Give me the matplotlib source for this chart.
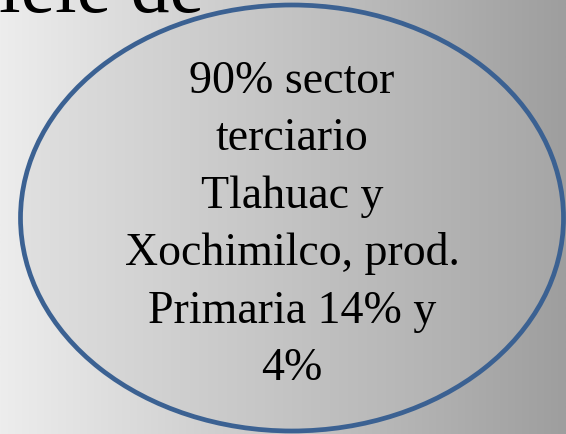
import numpy as np
import matplotlib
matplotlib.use('Agg')
import matplotlib.pyplot as plt
from matplotlib.patches import Ellipse

# texto del recuadro
titulo = 'iele de'
lineas = ['90% sector', 'terciario', 'Tlahuac y',
          'Xochimilco, prod.', 'Primaria 14% y', '4%']

W, H = 566, 435
fig = plt.figure(figsize=(W / 100, H / 100), dpi=100)
ax = fig.add_axes([0, 0, 1, 1])
ax.set_xlim(0, W); ax.set_ylim(H, 0); ax.axis('off')

# fondo degradado horizontal
g = np.linspace(0, 1, 256)[None, :]
ax.imshow(g, cmap=matplotlib.colors.LinearSegmentedColormap.from_list('bg', ['#ededed', '#9e9e9e']),
          extent=[0, W, H, 0], aspect='auto', zorder=0)

# elipse con degradado propio
cx, cy, ew, eh = 292, 219, 543, 426
el = Ellipse((cx, cy), ew, eh, facecolor='none', edgecolor='#3b6192', lw=3.4, zorder=3)
ax.add_patch(el)
im = ax.imshow(g, cmap=matplotlib.colors.LinearSegmentedColormap.from_list('el', ['#e0e0e0', '#a6a6a6']),
               extent=[cx - ew / 2, cx + ew / 2, cy + eh / 2, cy - eh / 2], aspect='auto', zorder=1)
im.set_clip_path(el)

ax.text(-1, 12, titulo, fontsize=56, family='Liberation Serif', color='black',
        va='baseline', ha='left', zorder=4)

y0, dy = 93, 57.5
for i, t in enumerate(lineas):
    ax.text(cx, y0 + i * dy, t, fontsize=33, family='Liberation Serif', color='black',
            ha='center', va='baseline', zorder=4)

fig.savefig('out.png', dpi=100)
